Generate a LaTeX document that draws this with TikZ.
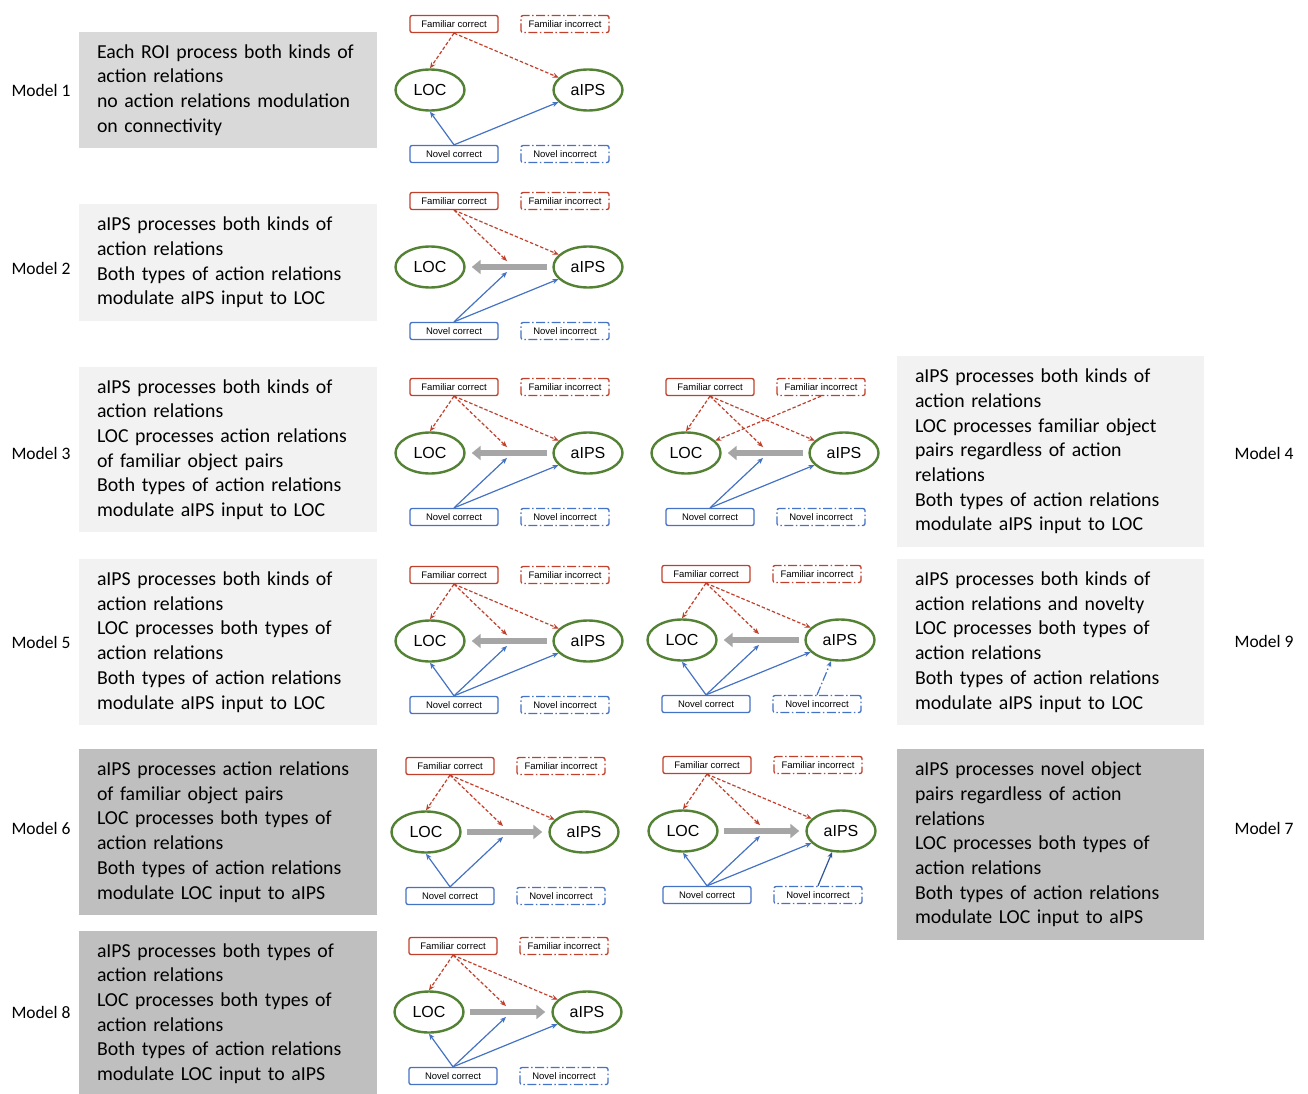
\documentclass[tikz,border=0pt]{standalone}
\usepackage{fontspec}
\setmainfont{Carlito}
\newfontfamily\arialfont{Liberation Sans}
\usetikzlibrary{arrows.meta,shapes.geometric}

\definecolor{famred}{RGB}{192,64,44}
\definecolor{novblue}{RGB}{68,114,196}
\definecolor{novdark}{RGB}{47,85,151}
\definecolor{roigreen}{RGB}{84,130,53}
\definecolor{relaygray}{RGB}{166,166,166}
\definecolor{boxlight}{RGB}{242,242,242}
\definecolor{boxmid}{RGB}{217,217,217}
\definecolor{boxdark}{RGB}{191,191,191}

\tikzset{
  roi/.style={ellipse, draw=roigreen, line width=2.4pt, minimum width=69pt, minimum height=41pt,
    font=\arialfont\fontsize{16}{16}\selectfont},
  cond/.style={rectangle, rounded corners=2pt, line width=1.3pt, minimum width=88pt, minimum height=17pt,
    inner sep=0pt, font=\arialfont\fontsize{9.5}{10}\selectfont},
  fam/.style={cond, draw=famred},
  nov/.style={cond, draw=novblue},
  dashdotbox/.style={dash pattern=on 9pt off 2.5pt on 1.5pt off 2.5pt},
  famlink/.style={famred, line width=1.2pt, dash pattern=on 3.5pt off 2pt, -{Stealth[length=6pt,width=5pt]}},
  novlink/.style={novblue, line width=1.2pt, -{Stealth[length=6pt,width=5pt]}},
  relay/.style={relaygray, line width=6pt, shorten <=5pt, shorten >=6pt, -{Triangle[length=9pt,width=14pt]}},
  desc/.style={rectangle, inner xsep=18pt, inner ysep=0pt, text width=262pt, align=left,
    font=\fontsize{19.8}{24.7}\selectfont, execute at begin node={\hyphenpenalty=10000 }},
  modeltag/.style={font=\fontsize{17.5}{20}\selectfont},
}

% one LOC/aIPS panel: #1 prefix, #2,#3 centre of LOC
\newcommand{\roipanel}[3]{%
  \node[roi] (#1loc) at (#2,#3) {LOC};
  \node[roi] (#1ips) at (#2+158,#3) {aIPS};
  \node[fam] (#1fc) at (#2+24,#3-66) {Familiar correct};
  \node[fam,dashdotbox] (#1fi) at (#2+135,#3-66) {Familiar incorrect};
  \node[nov] (#1nc) at (#2+24,#3+64) {Novel correct};
  \node[nov,dashdotbox] (#1ni) at (#2+135,#3+64) {Novel incorrect};
  \coordinate (#1up) at (#2+77,#3-6);
  \coordinate (#1dn) at (#2+77,#3+5);
}

\begin{document}
\begin{tikzpicture}[x=1pt,y=-1pt]
  \useasboundingbox (0,0) rectangle (1308,1094);

  % text boxes
  \node[desc, fill=boxmid, minimum height=116pt] (d1) at (228,90)
    {Each ROI process both kinds of\\action relations\\no action relations modulation\\on connectivity};
  \node[desc, fill=boxlight, minimum height=117pt] (d2) at (228,262.5)
    {aIPS processes both kinds of\\action relations\\Both types of action relations\\modulate aIPS input to LOC};
  \node[desc, fill=boxlight, minimum height=165pt] (d3) at (228,449.5)
    {aIPS processes both kinds of\\action relations\\LOC processes action relations\\of familiar object pairs\\Both types of action relations\\modulate aIPS input to LOC};
  \node[desc, fill=boxlight, minimum height=191pt, text width=271pt] (d4) at (1050.5,451.5)
    {aIPS processes both kinds of\\action relations\\LOC processes familiar object\\pairs regardless of action\\relations\\Both types of action relations\\modulate aIPS input to LOC};
  \node[desc, fill=boxlight, minimum height=166pt] (d5) at (228,642)
    {aIPS processes both kinds of\\action relations\\LOC processes both types of\\action relations\\Both types of action relations\\modulate aIPS input to LOC};
  \node[desc, fill=boxlight, minimum height=166pt, text width=271pt] (d9) at (1050.5,642)
    {aIPS processes both kinds of\\action relations and novelty\\LOC processes both types of\\action relations\\Both types of action relations\\modulate aIPS input to LOC};
  \node[desc, fill=boxdark, minimum height=166pt] (d6) at (228,832)
    {aIPS processes action relations\\of familiar object pairs\\LOC processes both types of\\action relations\\Both types of action relations\\modulate LOC input to aIPS};
  \node[desc, fill=boxdark, minimum height=191pt, text width=271pt] (d7) at (1050.5,844.5)
    {aIPS processes novel object\\pairs regardless of action\\relations\\LOC processes both types of\\action relations\\Both types of action relations\\modulate LOC input to aIPS};
  \node[desc, fill=boxdark, minimum height=165pt] (d8) at (228,1013.5)
    {aIPS processes both types of\\action relations\\LOC processes both types of\\action relations\\Both types of action relations\\modulate LOC input to aIPS};

  % model names
  \node[modeltag] (t1) at (41,90) {Model 1};
  \node[modeltag] (t2) at (41,268) {Model 2};
  \node[modeltag] (t3) at (41,453) {Model 3};
  \node[modeltag] (t5) at (41,642) {Model 5};
  \node[modeltag] (t6) at (41,828) {Model 6};
  \node[modeltag] (t8) at (41,1012) {Model 8};
  \node[modeltag] (t4) at (1264,453) {Model 4};
  \node[modeltag] (t9) at (1264,641) {Model 9};
  \node[modeltag] (t7) at (1264,828) {Model 7};

  % panels
  \roipanel{m1}{430}{90}
  \roipanel{m2}{430}{267}
  \roipanel{m3}{430}{453}
  \roipanel{m4}{686}{453}
  \roipanel{m5}{430}{641}
  \roipanel{m9}{682}{640}
  \roipanel{m6}{426}{832}
  \roipanel{m7}{683}{831}
  \roipanel{m8}{429}{1012}

  % model 1
  \draw[famlink] (m1fc.south) -- (m1loc.north);
  \draw[famlink] (m1fc.south) -- (m1ips);
  \draw[novlink] (m1nc.north) -- (m1loc.south);
  \draw[novlink] (m1nc.north) -- (m1ips);
  % model 2
  \draw[relay] (m2ips.west) -- (m2loc.east);
  \draw[famlink] (m2fc.south) -- (m2up);
  \draw[famlink] (m2fc.south) -- (m2ips);
  \draw[novlink] (m2nc.north) -- (m2dn);
  \draw[novlink] (m2nc.north) -- (m2ips);
  % model 3
  \draw[relay] (m3ips.west) -- (m3loc.east);
  \draw[famlink] (m3fc.south) -- (m3loc.north);
  \draw[famlink] (m3fc.south) -- (m3up);
  \draw[famlink] (m3fc.south) -- (m3ips);
  \draw[novlink] (m3nc.north) -- (m3dn);
  \draw[novlink] (m3nc.north) -- (m3ips);
  % model 4
  \draw[relay] (m4ips.west) -- (m4loc.east);
  \draw[famlink] (m4fc.south) -- (m4loc.north);
  \draw[famlink] (m4fc.south) -- (m4up);
  \draw[famlink] (m4fc.south) -- (m4ips);
  \draw[famlink] (m4fi.south) -- (m4loc);
  \draw[novlink] (m4nc.north) -- (m4dn);
  \draw[novlink] (m4nc.north) -- (m4ips);
  % model 5
  \draw[relay] (m5ips.west) -- (m5loc.east);
  \draw[famlink] (m5fc.south) -- (m5loc.north);
  \draw[famlink] (m5fc.south) -- (m5up);
  \draw[famlink] (m5fc.south) -- (m5ips);
  \draw[novlink] (m5nc.north) -- (m5loc.south);
  \draw[novlink] (m5nc.north) -- (m5dn);
  \draw[novlink] (m5nc.north) -- (m5ips);
  % model 9
  \draw[relay] (m9ips.west) -- (m9loc.east);
  \draw[famlink] (m9fc.south) -- (m9loc.north);
  \draw[famlink] (m9fc.south) -- (m9up);
  \draw[famlink] (m9fc.south) -- (m9ips);
  \draw[novlink] (m9nc.north) -- (m9loc.south);
  \draw[novlink] (m9nc.north) -- (m9dn);
  \draw[novlink] (m9nc.north) -- (m9ips);
  \draw[novlink, dashdotbox] (m9ni.north) -- (m9ips);
  % model 6
  \draw[relay] (m6loc.east) -- (m6ips.west);
  \draw[famlink] (m6fc.south) -- (m6loc.north);
  \draw[famlink] (m6fc.south) -- (m6up);
  \draw[famlink] (m6fc.south) -- (m6ips);
  \draw[novlink] (m6nc.north) -- (m6loc.south);
  \draw[novlink] (m6nc.north) -- (m6dn);
  % model 7
  \draw[relay] (m7loc.east) -- (m7ips.west);
  \draw[famlink] (m7fc.south) -- (m7loc.north);
  \draw[famlink] (m7fc.south) -- (m7up);
  \draw[famlink] (m7fc.south) -- (m7ips);
  \draw[novlink] (m7nc.north) -- (m7loc.south);
  \draw[novlink] (m7nc.north) -- (m7dn);
  \draw[novlink] (m7nc.north) -- (m7ips);
  \draw[novlink, novdark] (m7ni.north) -- (m7ips);
  % model 8
  \draw[relay] (m8loc.east) -- (m8ips.west);
  \draw[famlink] (m8fc.south) -- (m8loc.north);
  \draw[famlink] (m8fc.south) -- (m8up);
  \draw[famlink] (m8fc.south) -- (m8ips);
  \draw[novlink] (m8nc.north) -- (m8loc.south);
  \draw[novlink] (m8nc.north) -- (m8dn);
  \draw[novlink] (m8nc.north) -- (m8ips);
\end{tikzpicture}
\end{document}
